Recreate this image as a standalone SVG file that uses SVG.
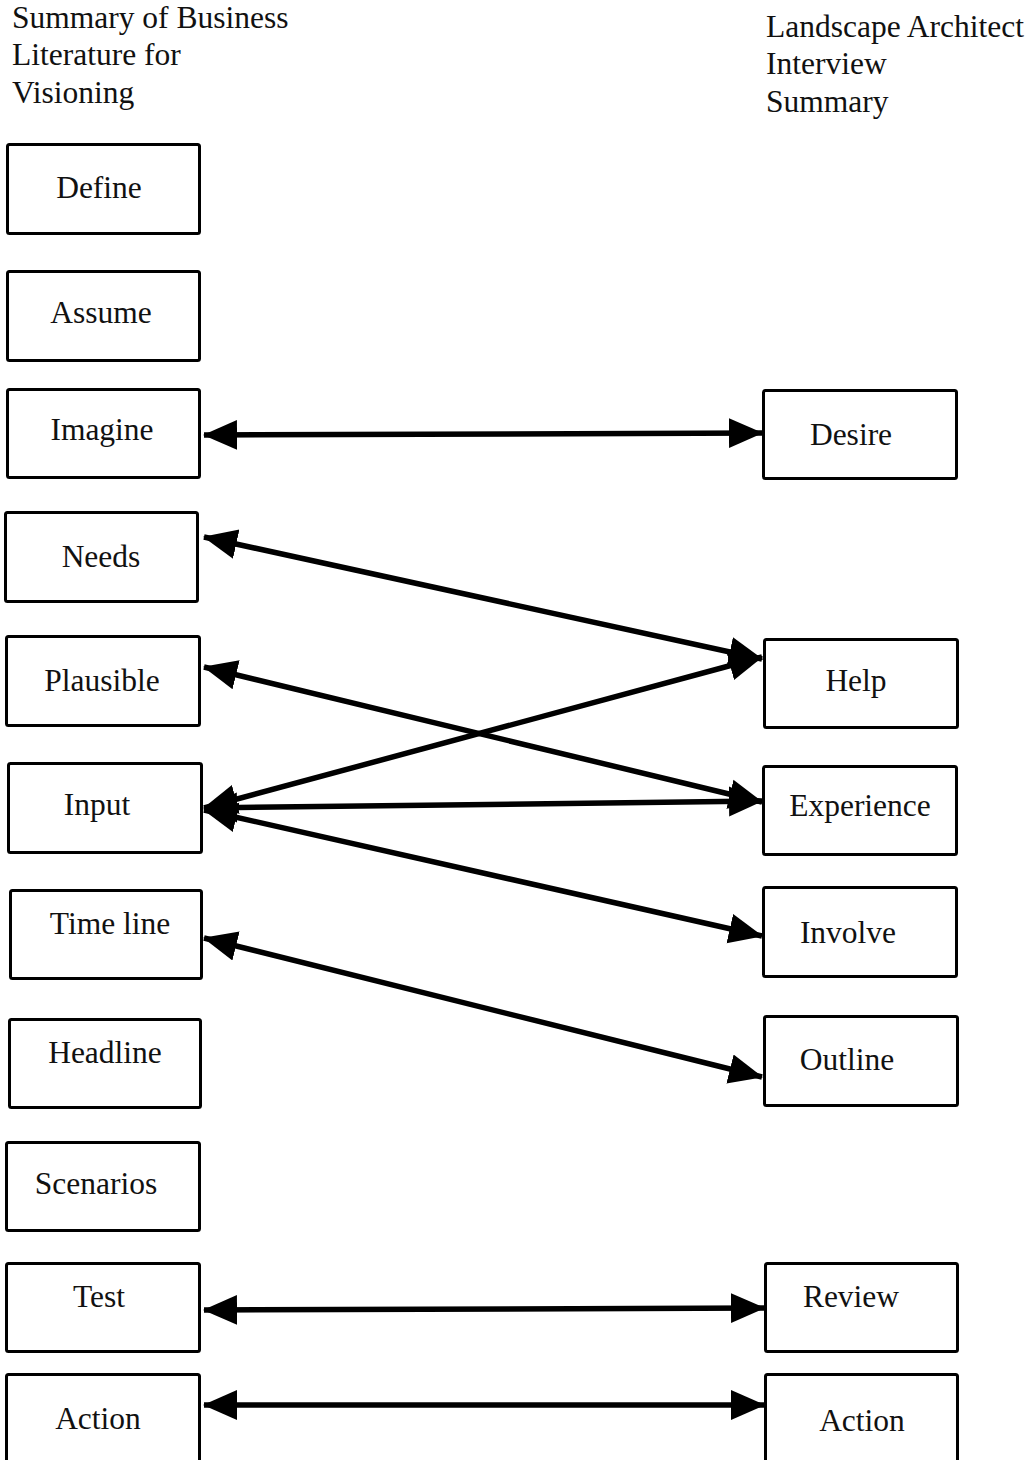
<svg xmlns="http://www.w3.org/2000/svg" width="1034" height="1460" viewBox="0 0 1034 1460">
<style>
.box{fill:#fff;stroke:#000;stroke-width:3}
.lbl{font-family:"Liberation Serif","Times New Roman",serif;font-size:31.5px;fill:#111;text-anchor:middle}
.hdr{font-family:"Liberation Serif","Times New Roman",serif;font-size:31.5px;fill:#111}
.con{stroke:#000;stroke-width:5.5;fill:none;marker-start:url(#ah);marker-end:url(#ah)}
</style>
<defs>
<marker id="ah" markerUnits="userSpaceOnUse" markerWidth="36" markerHeight="32" refX="33" refY="16" orient="auto-start-reverse" viewBox="0 0 36 32">
<path d="M0,1 L34,16 L0,31 Z" fill="#000"/>
</marker>
</defs>
<rect width="1034" height="1460" fill="#fff"/>
<g id="header-left">
<text class="hdr" x="12" y="28">Summary of Business</text>
<text class="hdr" x="12" y="65">Literature for</text>
<text class="hdr" x="12" y="103">Visioning</text>
</g>
<g id="header-right">
<text class="hdr" x="766" y="37">Landscape Architect</text>
<text class="hdr" x="766" y="74">Interview</text>
<text class="hdr" x="766" y="112">Summary</text>
</g>
<g id="connectors">
<line class="con" x1="204" y1="435" x2="762" y2="433"/>
<line class="con" x1="204" y1="537" x2="762" y2="659"/>
<line class="con" x1="204" y1="808" x2="762" y2="657"/>
<line class="con" x1="204" y1="667" x2="762" y2="802"/>
<line class="con" x1="204" y1="808" x2="762" y2="801"/>
<line class="con" x1="204" y1="810" x2="762" y2="936"/>
<line class="con" x1="204" y1="938" x2="762" y2="1077"/>
<line class="con" x1="204" y1="1310" x2="764" y2="1308"/>
<line class="con" x1="204" y1="1405" x2="764" y2="1405"/>
</g>
<g id="n-define"><rect class="box" x="7.5" y="144.5" width="192" height="89" rx="2"/><text class="lbl" x="99" y="198">Define</text></g>
<g id="n-assume"><rect class="box" x="7.5" y="271.5" width="192" height="89" rx="2"/><text class="lbl" x="101" y="323">Assume</text></g>
<g id="n-imagine"><rect class="box" x="7.5" y="389.5" width="192" height="88" rx="2"/><text class="lbl" x="102" y="440">Imagine</text></g>
<g id="n-needs"><rect class="box" x="5.5" y="512.5" width="192" height="89" rx="2"/><text class="lbl" x="101" y="567">Needs</text></g>
<g id="n-plausible"><rect class="box" x="6.5" y="636.5" width="193" height="89" rx="2"/><text class="lbl" x="102" y="691">Plausible</text></g>
<g id="n-input"><rect class="box" x="8.5" y="763.5" width="193" height="89" rx="2"/><text class="lbl" x="97" y="815">Input</text></g>
<g id="n-timeline"><rect class="box" x="10.5" y="890.5" width="191" height="88" rx="2"/><text class="lbl" x="110" y="934">Time line</text></g>
<g id="n-headline"><rect class="box" x="9.5" y="1019.5" width="191" height="88" rx="2"/><text class="lbl" x="105" y="1063">Headline</text></g>
<g id="n-scenarios"><rect class="box" x="6.5" y="1142.5" width="193" height="88" rx="2"/><text class="lbl" x="96" y="1194">Scenarios</text></g>
<g id="n-test"><rect class="box" x="6.5" y="1263.5" width="193" height="88" rx="2"/><text class="lbl" x="99" y="1307">Test</text></g>
<g id="n-action-left"><rect class="box" x="6.5" y="1374.5" width="193" height="92" rx="2"/><text class="lbl" x="98" y="1429">Action</text></g>
<g id="n-desire"><rect class="box" x="763.5" y="390.5" width="193" height="88" rx="2"/><text class="lbl" x="851" y="445">Desire</text></g>
<g id="n-help"><rect class="box" x="764.5" y="639.5" width="193" height="88" rx="2"/><text class="lbl" x="856" y="691">Help</text></g>
<g id="n-experience"><rect class="box" x="763.5" y="766.5" width="193" height="88" rx="2"/><text class="lbl" x="860" y="816">Experience</text></g>
<g id="n-involve"><rect class="box" x="763.5" y="887.5" width="193" height="89" rx="2"/><text class="lbl" x="848" y="943">Involve</text></g>
<g id="n-outline"><rect class="box" x="764.5" y="1016.5" width="193" height="89" rx="2"/><text class="lbl" x="847" y="1070">Outline</text></g>
<g id="n-review"><rect class="box" x="765.5" y="1263.5" width="192" height="88" rx="2"/><text class="lbl" x="851" y="1307">Review</text></g>
<g id="n-action-right"><rect class="box" x="765.5" y="1374.5" width="192" height="92" rx="2"/><text class="lbl" x="862" y="1431">Action</text></g>
</svg>
